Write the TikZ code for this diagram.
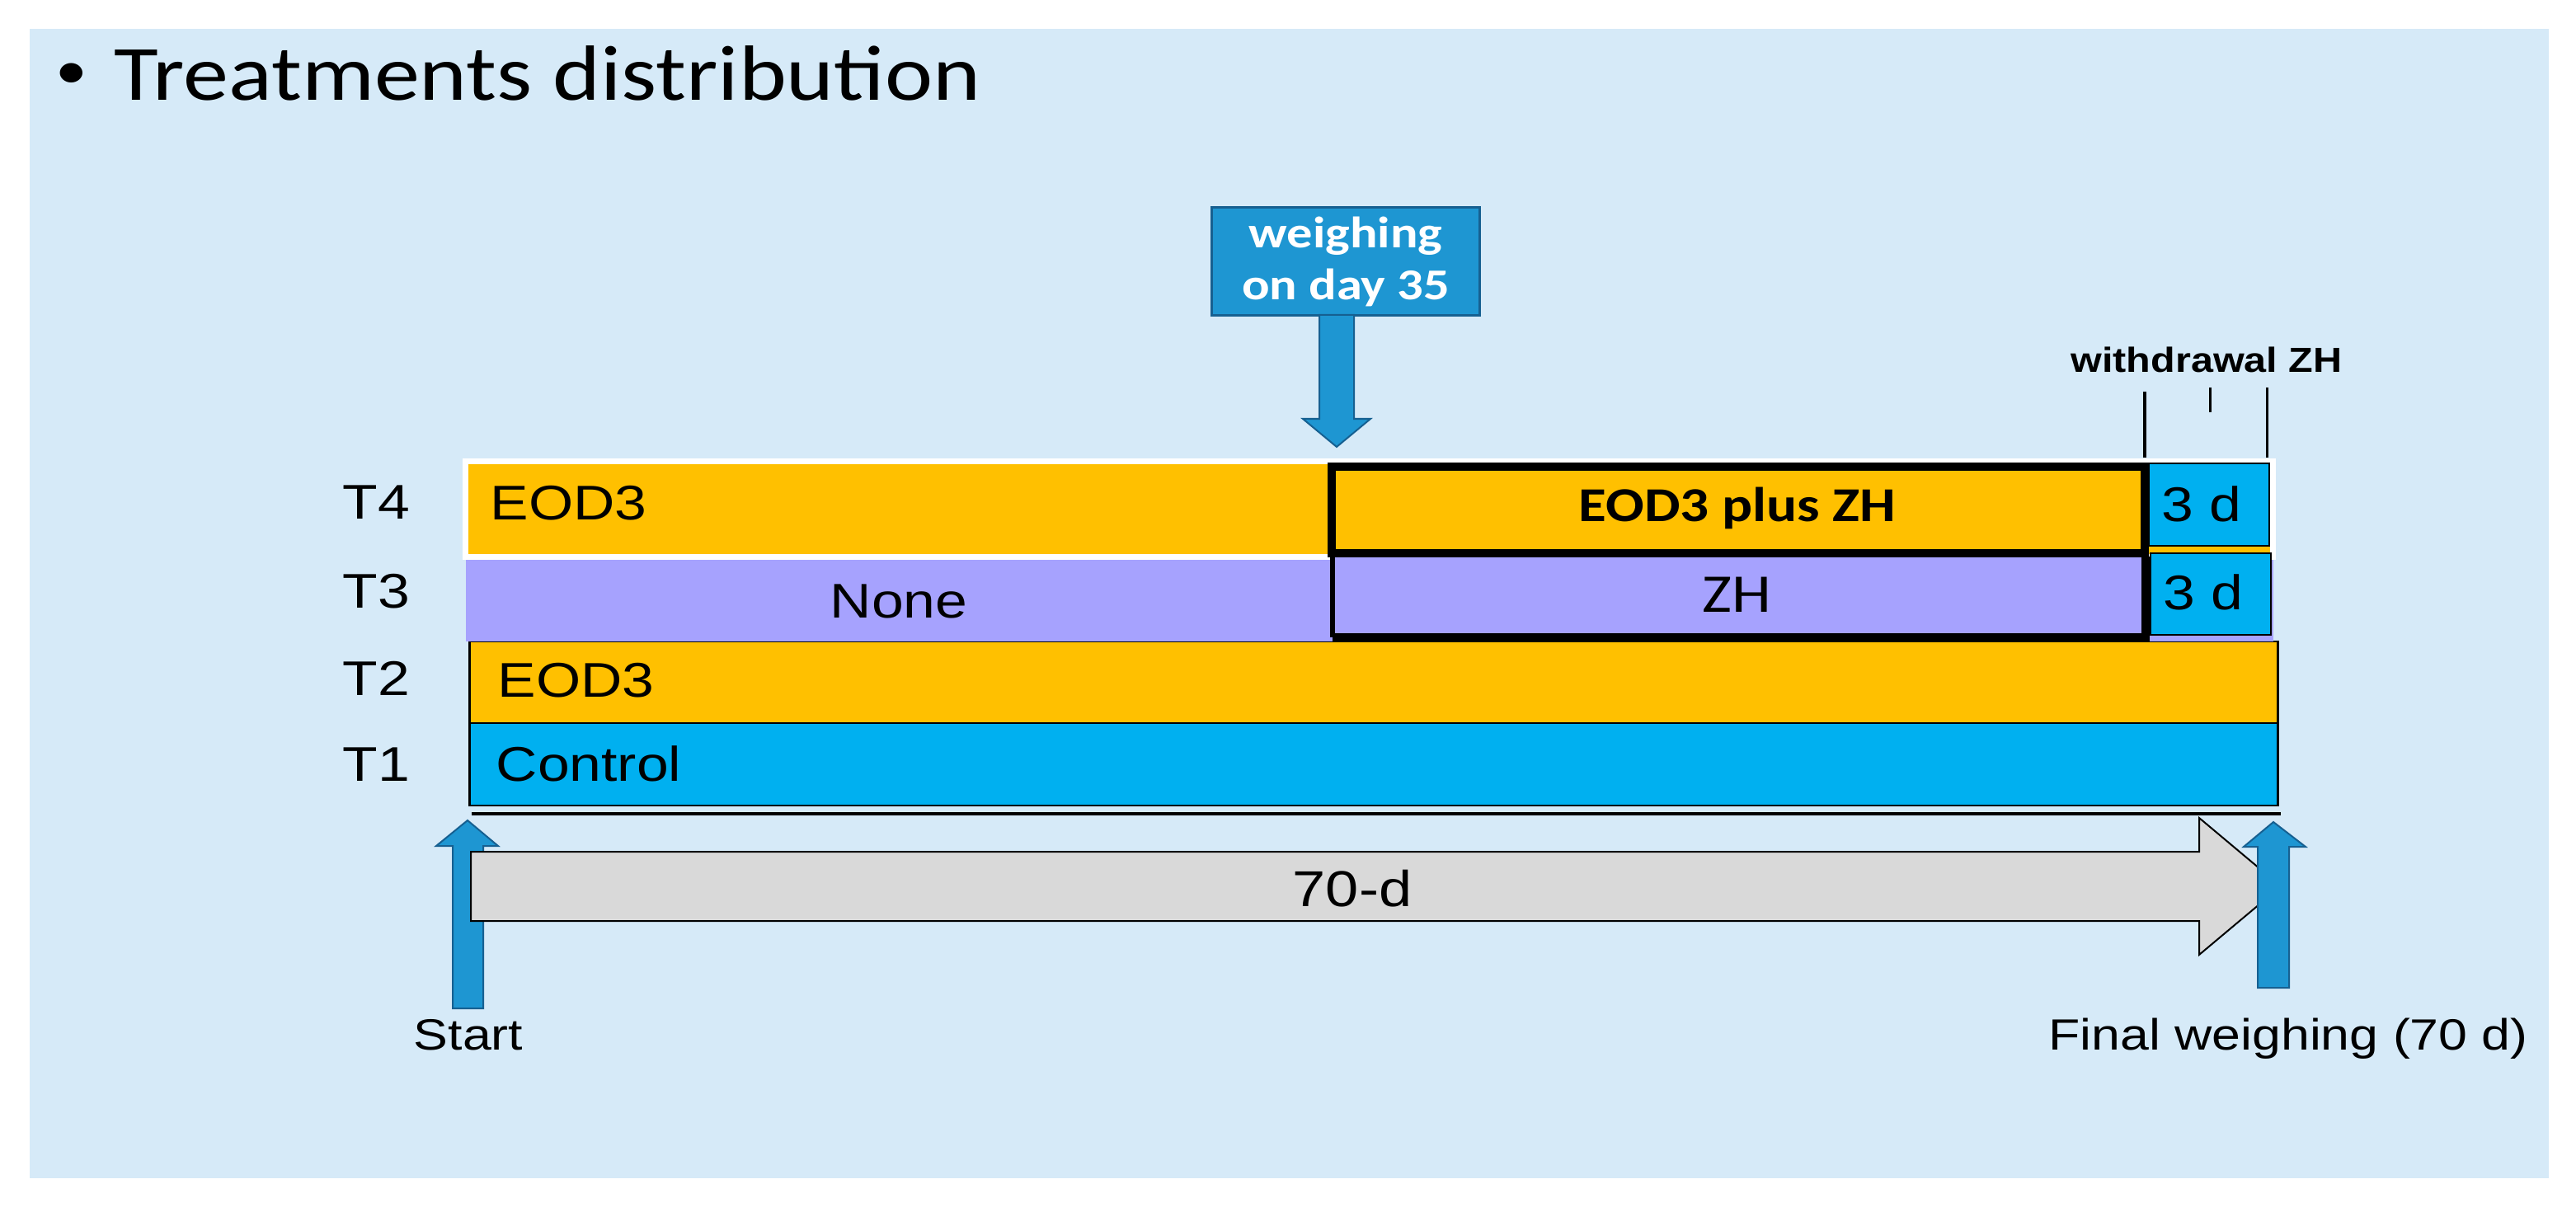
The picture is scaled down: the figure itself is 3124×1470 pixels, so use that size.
\documentclass[tikz,border=0pt]{standalone}
\usepackage{fontspec}
\setmainfont{Liberation Sans}
\newfontfamily\arialS[FakeStretch=1.18]{Liberation Sans}
\newfontfamily\arialB[FakeStretch=1.15]{Liberation Sans Bold}
\newfontfamily\calS[FakeStretch=1.16]{Carlito}
\newfontfamily\calB[FakeStretch=1.17]{Carlito Bold}
\definecolor{bgblue}{RGB}{214,234,248}
\definecolor{barorange}{RGB}{255,192,0}
\definecolor{barpurple}{RGB}{166,162,254}
\definecolor{barblue}{RGB}{0,176,240}
\definecolor{arrblue}{RGB}{30,150,210}
\definecolor{arredge}{RGB}{22,96,145}
\definecolor{arrgray}{RGB}{217,217,217}
\begin{document}
\begin{tikzpicture}[x=0.01cm,y=-0.01cm,
  txt/.style={inner sep=0pt},
  lab/.style={txt,font=\arialS\fontsize{16.8}{20}\selectfont},
  small/.style={txt,font=\arialS\fontsize{15.1}{18}\selectfont},
  bar/.style={inner sep=0pt,draw=black,line width=0.025cm},
  thick box/.style={inner sep=0pt,draw=black,line width=0.1cm},
  bluearrow/.style={fill=arrblue,draw=arredge,line width=0.02cm}]
\useasboundingbox (0,0) rectangle (3124,1470);
\fill[white] (0,0) rectangle (3124,1470);
\fill[bgblue] (36,35) rectangle (3091,1429);

% title
\node[txt,anchor=base,font=\calS\fontsize{19}{22}\selectfont] (bullet) at (87,108) {•};
\node[txt,anchor=base west,font=\calS\fontsize{27}{32}\selectfont] (title) at (138,122) {Treatments distribution};

% bars
\node[bar,fill=barblue,minimum width=21.92cm,minimum height=1.00cm] (t1bar) at (1666,927) {};
\node[bar,fill=barorange,minimum width=21.92cm,minimum height=0.99cm] (t2bar) at (1666,827.5) {};
\node[inner sep=0pt,fill=barpurple,minimum width=21.90cm,minimum height=1.00cm] (t3bar) at (1661,728) {};
\node[inner sep=0pt,fill=barorange,draw=white,line width=0.07cm,minimum width=21.91cm,minimum height=1.15cm] (t4bar) at (1660.5,617.5) {};

% treatment boxes
\node[thick box,fill=barorange,minimum width=9.86cm,minimum height=1.05cm] (eodzh) at (2108,618.5) {};
\node[inner sep=0pt,fill=barpurple,minimum width=9.84cm,minimum height=0.96cm] (zh) at (2109,724) {};
\draw[line width=0.06cm] (zh.north west) -- (zh.south west);
\draw[line width=0.1cm] (zh.south west) -- (zh.south east) -- (zh.north east);
\node[bar,fill=barblue,minimum width=1.46cm,minimum height=1.00cm] (wd4) at (2679,612) {};
\node[bar,fill=barblue,minimum width=1.46cm,minimum height=0.99cm] (wd3) at (2681,720.5) {};

% labels in bars
\node[lab,anchor=base west] (eod4) at (594,630) {EOD3};
\node[lab,anchor=base] (none) at (1090,749) {None};
\node[txt,anchor=base,font=\calB\fontsize{16.8}{20}\selectfont] (eodzhlab) at (2107,633) {EOD3 plus ZH};
\node[txt,anchor=base,font=\calS\fontsize{18.8}{22}\selectfont] (zhlab) at (2106,742) {ZH};
\node[lab,anchor=base] (d4) at (2670,632) {3 d};
\node[lab,anchor=base] (d3) at (2672,739) {3 d};
\node[lab,anchor=base west] (eod2) at (603,845) {EOD3};
\node[lab,anchor=base west] (ctrl) at (601,947) {Control};

% row labels
\node[lab,anchor=base west] (T4) at (415,629) {T4};
\node[lab,anchor=base west] (T3) at (415,737) {T3};
\node[lab,anchor=base west] (T2) at (415,843) {T2};
\node[lab,anchor=base west] (T1) at (415,947) {T1};

% withdrawal
\node[txt,anchor=base,font=\arialB\fontsize{12}{14}\selectfont] (wdlab) at (2676,452) {withdrawal ZH};
\draw[line width=0.04cm] (2601,475) -- (2601,555);
\draw[line width=0.03cm] (2680,470) -- (2680,500);
\draw[line width=0.03cm] (2749,470) -- (2749,555);

% line under bars
\draw[line width=0.045cm] (572,987) -- (2766,987);

% weighing day 35
\node[fill=arrblue,draw=arredge,line width=0.03cm,inner sep=0pt,minimum width=3.25cm,minimum height=1.30cm,
      align=center,text=white,font=\calB\fontsize{15.2}{17.9}\selectfont] (w35) at (1632,317) {weighing\\on day 35};
\draw[bluearrow] (1600,382) -- (1600,508) -- (1580,508) -- (1621,542) -- (1662,508) -- (1642,508) -- (1642,382) -- cycle;
\coordinate (w35tip) at (1621,542);

% start arrow
\draw[bluearrow] (549,1223) -- (549,1026) -- (529,1026) -- (567,995) -- (604,1026) -- (586,1026) -- (586,1223) -- cycle;
\coordinate (starttip) at (567,995);
% 70-d gray arrow
\draw[fill=arrgray,draw=black,line width=0.02cm] (571,1033) -- (2667,1033) -- (2667,992) -- (2766,1075) -- (2667,1158) -- (2667,1117) -- (571,1117) -- cycle;
\node[lab,anchor=base,font=\arialS\fontsize{17.4}{20}\selectfont] (days) at (1640,1099) {70-d};
% final arrow
\draw[bluearrow] (2738,1198) -- (2738,1027) -- (2721,1027) -- (2757,997) -- (2796,1027) -- (2776,1027) -- (2776,1198) -- cycle;
\coordinate (finaltip) at (2757,997);

\node[small,anchor=base] (start) at (568,1273) {Start};
\node[small,anchor=base] (final) at (2775,1273) {Final weighing (70 d)};
\end{tikzpicture}
\end{document}
